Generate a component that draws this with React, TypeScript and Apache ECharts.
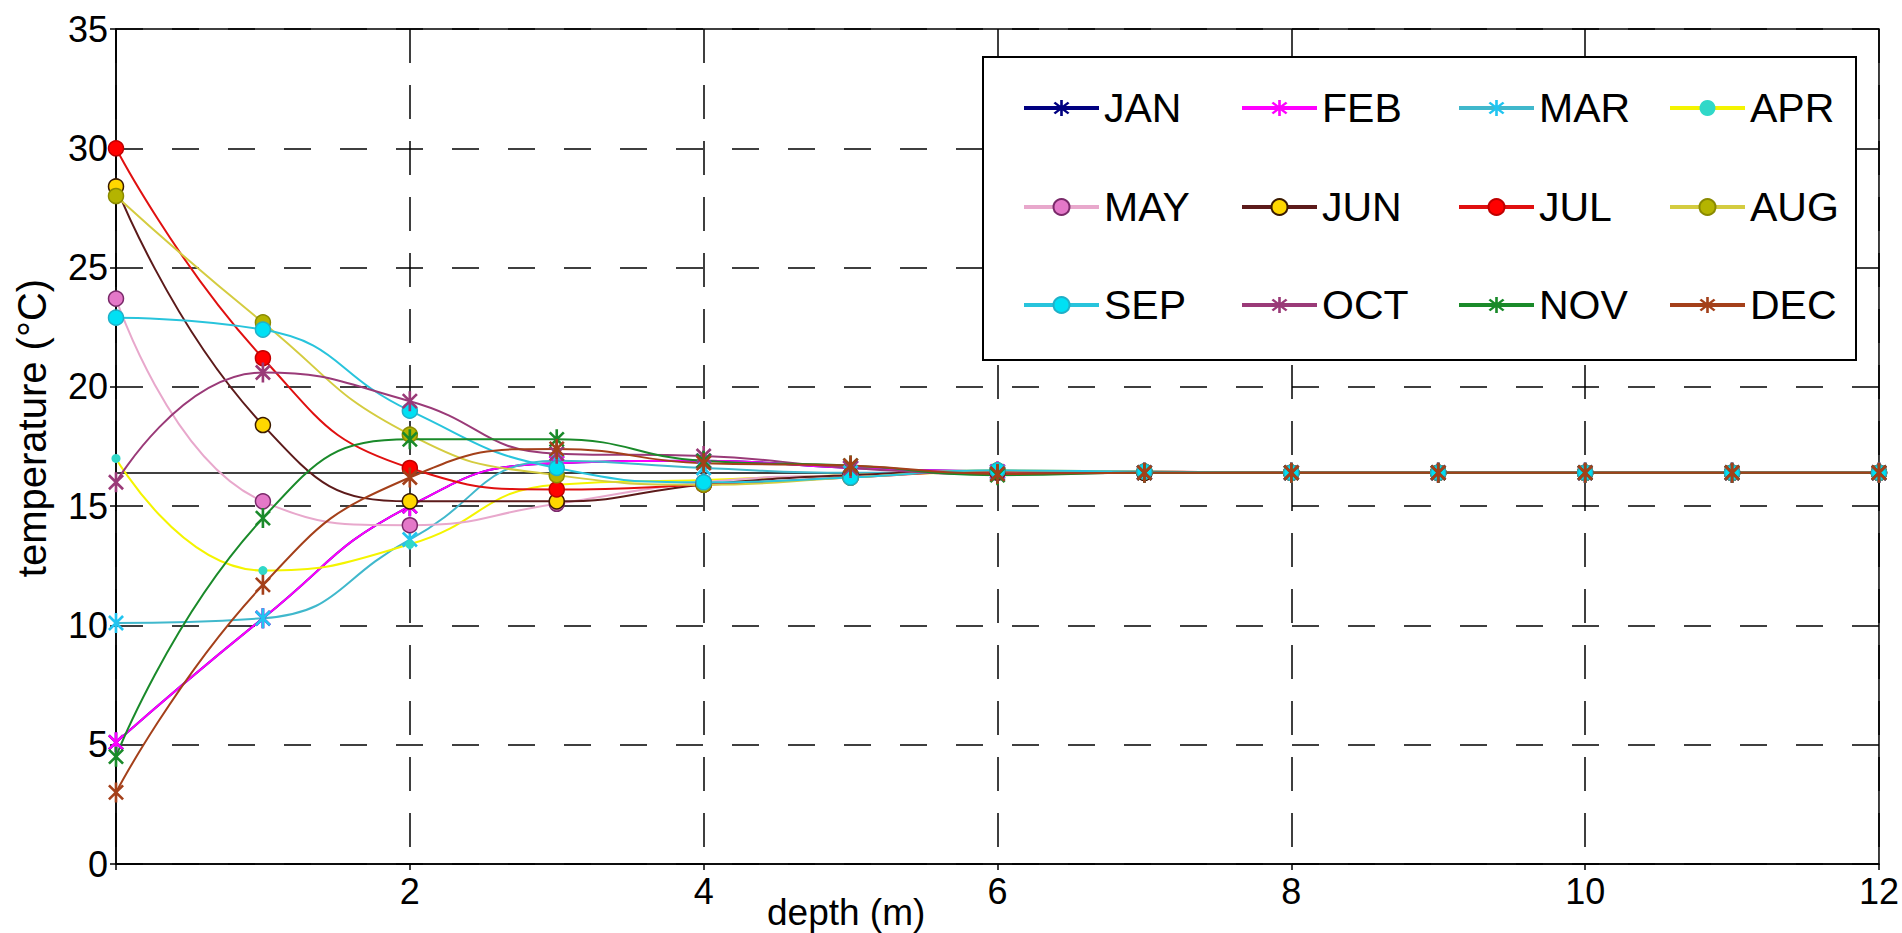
import React, { useEffect, useRef } from 'react';
import * as echarts from 'echarts';

const DEPTHS = [0, 1, 2, 3, 4, 5, 6, 7, 8, 9, 10, 11, 12];
const MONTHS = ['JAN', 'FEB', 'MAR', 'APR', 'MAY', 'JUN', 'JUL', 'AUG', 'SEP', 'OCT', 'NOV', 'DEC'];

const JAN = [5.1, 10.3, 15.0, 16.8, 16.9, 16.6, 16.45, 16.4, 16.4, 16.4, 16.4, 16.4, 16.4];
const FEB = [5.1, 10.3, 15.0, 16.8, 16.9, 16.6, 16.45, 16.4, 16.4, 16.4, 16.4, 16.4, 16.4];
const MAR = [10.1, 10.3, 13.6, 16.9, 16.6, 16.4, 16.4, 16.4, 16.4, 16.4, 16.4, 16.4, 16.4];
const APR = [17.0, 12.3, 13.4, 15.9, 16.1, 16.3, 16.4, 16.4, 16.4, 16.4, 16.4, 16.4, 16.4];
const MAY = [23.7, 15.2, 14.2, 15.1, 16.0, 16.3, 16.4, 16.4, 16.4, 16.4, 16.4, 16.4, 16.4];
const JUN = [28.4, 18.4, 15.2, 15.2, 15.9, 16.3, 16.45, 16.4, 16.4, 16.4, 16.4, 16.4, 16.4];
const JUL = [30.0, 21.2, 16.6, 15.7, 15.9, 16.2, 16.45, 16.45, 16.4, 16.4, 16.4, 16.4, 16.4];
const AUG = [28.0, 22.7, 18.0, 16.3, 15.9, 16.2, 16.5, 16.45, 16.4, 16.4, 16.4, 16.4, 16.4];
const SEP = [22.9, 22.4, 19.0, 16.6, 16.0, 16.2, 16.5, 16.45, 16.4, 16.4, 16.4, 16.4, 16.4];
const OCT = [16.0, 20.6, 19.4, 17.2, 17.1, 16.6, 16.35, 16.4, 16.4, 16.4, 16.4, 16.4, 16.4];
const NOV = [4.5, 14.5, 17.8, 17.8, 16.9, 16.7, 16.3, 16.4, 16.4, 16.4, 16.4, 16.4, 16.4];
const DEC = [3.0, 11.7, 16.2, 17.4, 16.8, 16.7, 16.35, 16.4, 16.4, 16.4, 16.4, 16.4, 16.4];

const MEAN_TEMP = [16.4];
const X_RANGE = [0, 12];
const X_STEP = 2;
const Y_RANGE = [0, 35];
const Y_STEP = 5;

const SERIES_VALUES = [JAN, FEB, MAR, APR, MAY, JUN, JUL, AUG, SEP, OCT, NOV, DEC];

const FONT = "'Liberation Sans', Arial, Helvetica, sans-serif";

const STAR =
  'path://M-1.3,-10L1.3,-10L1.3,10L-1.3,10Z' +
  'M-7.92,-6.08L-6.08,-7.92L7.92,6.08L6.08,7.92Z' +
  'M6.08,-7.92L7.92,-6.08L-6.08,7.92L-7.92,6.08Z';

type Style = {
  line: string;
  fill: string;
  border?: string;
  symbol: string;
  size: number | number[];
};

const STAR_SIZE = [16, 20];

const STYLES: Style[] = [
  { line: '#000080', fill: '#000080', symbol: STAR, size: STAR_SIZE },
  { line: '#ff00ff', fill: '#ff00ff', symbol: STAR, size: STAR_SIZE },
  { line: '#40b8cc', fill: '#20c4f0', symbol: STAR, size: STAR_SIZE },
  { line: '#f4f400', fill: '#30d8c8', symbol: 'circle', size: 9 },
  { line: '#e8a8cc', fill: '#e478c8', border: '#7a2a6a', symbol: 'circle', size: 15 },
  { line: '#5c1a1a', fill: '#ffd700', border: '#3a1a00', symbol: 'circle', size: 15 },
  { line: '#e01010', fill: '#ff0000', border: '#c00000', symbol: 'circle', size: 15 },
  { line: '#d4cc40', fill: '#b4b400', border: '#8a8a00', symbol: 'circle', size: 15 },
  { line: '#28c4dc', fill: '#00e0f4', border: '#20b0c8', symbol: 'circle', size: 15 },
  { line: '#9a3a78', fill: '#9a3a78', symbol: STAR, size: STAR_SIZE },
  { line: '#1a8a2a', fill: '#1a8a2a', symbol: STAR, size: STAR_SIZE },
  { line: '#a4401a', fill: '#a4401a', symbol: STAR, size: STAR_SIZE },
];

const LEG_COLS = [1022, 1240, 1457, 1668];
const LEG_ROWS = [108, 207, 305];

export default function App() {
  const ref = useRef<HTMLDivElement>(null);

  useEffect(() => {
    if (!ref.current) return;
    const chart = echarts.init(ref.current, undefined, { renderer: 'svg' });

    const series: any[] = MONTHS.map((m, i) => {
      const st = STYLES[i];
      const s: any = {
        name: m,
        type: 'line',
        smooth: true,
        data: DEPTHS.map((d, j) => [d, SERIES_VALUES[i][j]]),
        symbol: st.symbol,
        symbolSize: st.size,
        showAllSymbol: true,
        lineStyle: { color: st.line, width: 2 },
        itemStyle: {
          color: st.fill,
          borderColor: st.border || st.fill,
          borderWidth: st.border ? 1.5 : 0,
        },
        emphasis: { disabled: true },
        z: 3,
      };
      if (i === 0) {
        s.markLine = {
          silent: true,
          symbol: ['none', 'none'],
          label: { show: false },
          lineStyle: { color: '#000', type: 'solid', width: 1.5 },
          data: MEAN_TEMP.map((v) => ({ yAxis: v })),
          z: 1,
        };
      }
      return s;
    });

    const legends = MONTHS.map((m, i) => ({
      data: [m],
      left: LEG_COLS[i % 4],
      top: LEG_ROWS[Math.floor(i / 4)] - 21,
      orient: 'horizontal',
      padding: 0,
      itemWidth: 75,
      itemHeight: 20,
      itemGap: 0,
      selectedMode: false,
      lineStyle: { width: 4 },
      textStyle: { fontSize: 41, color: '#000', fontFamily: FONT, lineHeight: 42 },
      z: 200,
    }));

    chart.setOption({
      animation: false,
      backgroundColor: '#ffffff',
      grid: {
        left: 116,
        right: 23,
        top: 29,
        bottom: 69,
        show: true,
        borderColor: '#000',
        borderWidth: 1.5,
        backgroundColor: 'transparent',
      },
      legend: legends,
      xAxis: {
        type: 'value',
        min: X_RANGE[0],
        max: X_RANGE[1],
        interval: X_STEP,
        axisLine: { show: true, lineStyle: { color: '#000', width: 1.5 } },
        axisTick: { show: true, length: 6, lineStyle: { color: '#000', width: 1.5 } },
        axisLabel: {
          fontSize: 36,
          color: '#000',
          fontFamily: FONT,
          margin: 9,
          formatter: (v: number) => (v === 0 ? '' : String(v)),
        },
        splitLine: { show: true, lineStyle: { color: '#000', width: 1.5, type: [34, 22] } },
      },
      yAxis: {
        type: 'value',
        min: Y_RANGE[0],
        max: Y_RANGE[1],
        interval: Y_STEP,
        axisLine: { show: true, lineStyle: { color: '#000', width: 1.5 } },
        axisTick: { show: true, length: 6, lineStyle: { color: '#000', width: 1.5 } },
        axisLabel: { fontSize: 36, color: '#000', fontFamily: FONT, margin: 8 },
        splitLine: { show: true, lineStyle: { color: '#000', width: 1.5, type: [27, 29] } },
      },
      graphic: [
        {
          type: 'rect',
          z: 100,
          shape: { x: 983, y: 57, width: 873, height: 303 },
          style: { fill: '#fff', stroke: '#000', lineWidth: 2 },
        },
        {
          type: 'text',
          z: 100,
          x: 32,
          y: 428,
          rotation: Math.PI / 2,
          style: {
            text: 'temperature (°C)',
            fontSize: 40,
            fontFamily: FONT,
            fill: '#000',
            align: 'center',
            verticalAlign: 'middle',
          },
        },
        {
          type: 'text',
          z: 100,
          x: 767,
          y: 912,
          style: {
            text: 'depth (m)',
            fontSize: 37,
            fontFamily: FONT,
            fill: '#000',
            align: 'left',
            verticalAlign: 'middle',
          },
        },
      ],
      series,
    });

    return () => chart.dispose();
  }, []);

  return (
    <div
      ref={ref}
      style={{ position: 'absolute', left: 0, top: 0, width: 1902, height: 933, background: '#fff' }}
    />
  );
}
